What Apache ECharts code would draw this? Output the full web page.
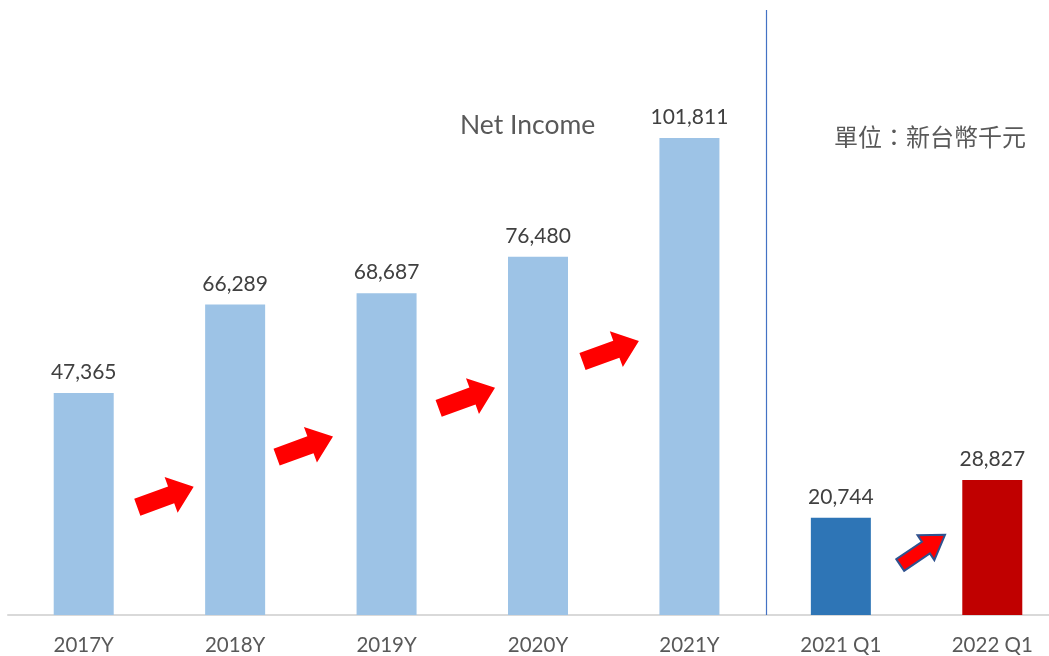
<!DOCTYPE html>
<html>
<head>
<meta charset="utf-8">
<script src="https://cdn.jsdelivr.net/npm/echarts@6/dist/echarts.min.js"></script>
<style>
  html, body { margin: 0; padding: 0; background: #fff; }
  #chart { width: 1049px; height: 656px; }
</style>
</head>
<body>
<div id="chart"></div>
<script>
// categories and values (NT$ thousands)
var categories = ['2017Y', '2018Y', '2019Y', '2020Y', '2021Y', '2021 Q1', '2022 Q1']
var netIncome = [47365, 66289, 68687, 76480, 101811, 20744, 28827]
var barColors = ['#9DC3E6', '#9DC3E6', '#9DC3E6', '#9DC3E6', '#9DC3E6', '#2E75B6', '#C00000']

// growth arrows: [position between categories, height on value axis]
var arrowAt = [0.54, 1.46, 2.53, 3.48, 5.54]
var arrowLevel = [25200, 35900, 46300, 56300, 13900]

var chart = echarts.init(document.getElementById('chart'))

var barData = netIncome.map(function (v, i) {
  return { value: v, itemStyle: { color: barColors[i] } }
})
var arrowData = arrowAt.map(function (f, i) {
  return [f, arrowLevel[i]]
})

function renderArrow(params, api) {
  var at = api.value(0)
  var from = Math.floor(at)
  var t = at - from
  var p0 = api.coord([from, api.value(1)])
  var p1 = api.coord([from + 1, api.value(1)])
  var cx = p0[0] + (p1[0] - p0[0]) * t
  var cy = p0[1]
  var small = from === 5
  var a = (small ? 34 : 20) * Math.PI / 180
  var len = small ? 27 : 30
  var shaft = small ? 7 : 9
  var head = small ? 15 : 19
  var neck = small ? 4 : 6
  var local = [[-len, -shaft], [neck, -shaft], [neck, -head], [len, 0],
    [neck, head], [neck, shaft], [-len, shaft]]
  var pts = local.map(function (p) {
    return [cx + p[0] * Math.cos(a) + p[1] * Math.sin(a),
      cy - p[0] * Math.sin(a) + p[1] * Math.cos(a)]
  })
  return {
    type: 'polygon',
    shape: { points: pts },
    style: {
      fill: '#FF0000',
      stroke: small ? '#2F528F' : null,
      lineWidth: small ? 2 : 0
    }
  }
}

function renderSeparator(params, api) {
  var p0 = api.coord([4, 0])
  var p1 = api.coord([5, 0])
  var x = Math.round((p0[0] + p1[0]) / 2) + 1.5
  return {
    type: 'line',
    shape: { x1: x, y1: 10, x2: x, y2: p0[1] },
    style: { stroke: '#4472C4', lineWidth: 1.2 }
  }
}

chart.setOption({
  animation: false,
  textStyle: { fontFamily: 'Lato, "Noto Sans", sans-serif' },
  title: [
    {
      text: 'Net Income',
      left: 455,
      top: 107,
      textStyle: { fontSize: 26.5, fontWeight: 'normal', color: '#595959', fontFamily: 'Lato, sans-serif' }
    },
    {
      text: '單位：新台幣千元',
      left: 829,
      top: 120,
      textStyle: { fontSize: 24, fontWeight: 'normal', color: '#595959', fontFamily: '"Noto Sans CJK TC", sans-serif' }
    }
  ],
  grid: {
    left: 8,
    width: 1060,
    top: 6,
    bottom: 41,
    containLabel: false,
    outerBoundsMode: 'none'
  },
  xAxis: {
    type: 'category',
    data: categories,
    axisLine: { lineStyle: { color: '#D9D9D9', width: 2 } },
    axisTick: { show: false },
    axisLabel: { color: '#595959', fontSize: 20.5, margin: 20 }
  },
  yAxis: {
    type: 'value',
    min: 0,
    max: 130000,
    show: false,
    splitLine: { show: false }
  },
  series: [
    {
      name: 'Net Income',
      type: 'bar',
      barWidth: 60,
      data: barData,
      label: {
        show: true,
        position: 'top',
        distance: 10,
        color: '#404040',
        fontSize: 21,
        formatter: function (p) {
          return p.value.toLocaleString('en-US')
        }
      }
    },
    {
      type: 'custom',
      renderItem: renderArrow,
      data: arrowData,
      z: 5
    },
    {
      type: 'custom',
      renderItem: renderSeparator,
      data: [[4, 0]],
      z: 4
    }
  ]
})
</script>
</body>
</html>
